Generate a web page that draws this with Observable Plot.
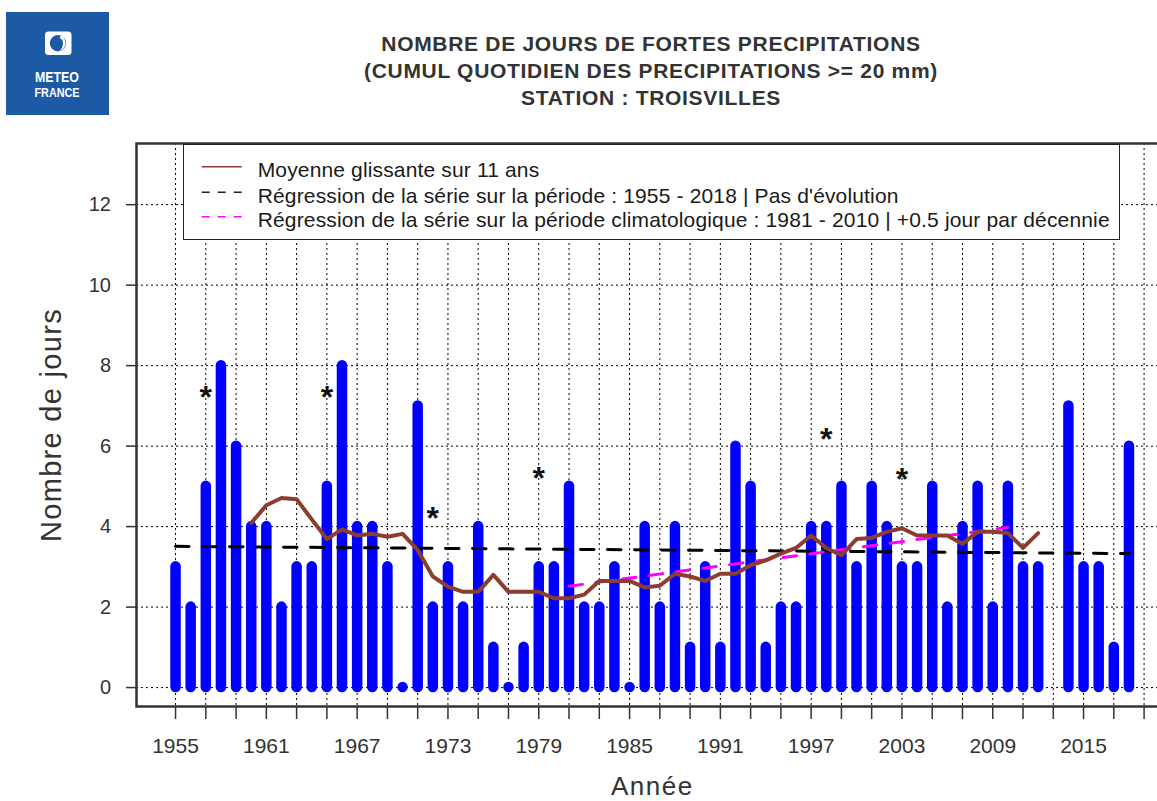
<!DOCTYPE html>
<html>
<head>
<meta charset="utf-8">
<script src="https://cdn.jsdelivr.net/npm/d3@7"></script>
<script src="https://cdn.jsdelivr.net/npm/@observablehq/plot@0.6"></script>
<style>
  body { margin: 0; background: #fff; overflow: hidden; font-family: "Liberation Sans", Arial, sans-serif; }
  #page { position: relative; width: 1157px; height: 801px; overflow: hidden; }
  #header { position: relative; width: 1157px; height: 130px; }
  .t { position: absolute; left: 0; width: 1302px; text-align: center; font-weight: bold; font-size: 21px;
       line-height: 27px; color: #333; letter-spacing: 0.7px; white-space: nowrap; }
  #legend { position: absolute; left: 183px; top: 144px; }
  #chart svg { display: block; }
</style>
</head>
<body>
<div id="page">
  <div id="header">
    <svg width="120" height="125" style="position:absolute;left:0;top:0">
      <rect x="6" y="12" width="103" height="103" fill="#1d5aa6"/>
      <rect x="45" y="31.5" width="26.5" height="23.5" rx="3.5" fill="#fff"/>
      <circle cx="58" cy="43.2" r="8.2" fill="#1d5aa6"/>
      <path d="M58,35.5 A7.7,7.7 0 0 1 58,50.9 A5,7.7 0 0 0 58,35.5 Z" fill="#fff"/>
      <circle cx="62" cy="37.5" r="2" fill="#fff"/>
      <text x="57" y="81.5" text-anchor="middle" font-family="Liberation Sans" font-weight="bold" font-size="14" fill="#fff" textLength="44" lengthAdjust="spacingAndGlyphs">METEO</text>
      <text x="57" y="96.7" text-anchor="middle" font-family="Liberation Sans" font-weight="bold" font-size="13.5" fill="#fff" textLength="45" lengthAdjust="spacingAndGlyphs">FRANCE</text>
    </svg>
    <div class="t" style="top:30px">NOMBRE DE JOURS DE FORTES PRECIPITATIONS</div>
    <div class="t" style="top:57px">(CUMUL QUOTIDIEN DES PRECIPITATIONS &gt;= 20 mm)</div>
    <div class="t" style="top:84px">STATION : TROISVILLES</div>
  </div>
  <div id="chart"></div>
  <svg id="legend" width="940" height="98">
    <rect x="0.5" y="0.5" width="936" height="95" fill="#fff" stroke="#222" stroke-width="1"/>
    <line x1="18.7" x2="58.7" y1="22.7" y2="22.7" stroke="#8b3e2f" stroke-width="1.6"/>
    <line x1="18.7" x2="58.7" y1="48.3" y2="48.3" stroke="#222" stroke-width="1.6" stroke-dasharray="8,8"/>
    <line x1="18.7" x2="58.7" y1="72.7" y2="72.7" stroke="#ff00ff" stroke-width="1.6" stroke-dasharray="8,8"/>
    <g font-family="Liberation Sans" font-size="21" fill="#1a1a1a" style="letter-spacing:0.15px">
      <text x="74.7" y="32.5">Moyenne glissante sur 11 ans</text>
      <text x="74.7" y="58.5">Régression de la série sur la période : 1955 - 2018 | Pas d'évolution</text>
      <text x="74.7" y="82.5">Régression de la série sur la période climatologique : 1981 - 2010 | +0.5 jour par décennie</text>
    </g>
  </svg>
</div>
<script>
// ---- Data ----
const years = [1955,1956,1957,1958,1959,1960,1961,1962,1963,1964,1965,1966,1967,1968,1969,1970,1971,1972,1973,1974,
  1975,1976,1977,1978,1979,1980,1981,1982,1983,1984,1985,1986,1987,1988,1989,1990,1991,1992,1993,1994,
  1995,1996,1997,1998,1999,2000,2001,2002,2003,2004,2005,2006,2007,2008,2009,2010,2011,2012,2014,2015,2016,2017,2018];
const days = [3,2,5,8,6,4,4,2,3,3,5,8,4,4,3,0,7,2,3,2,
  4,1,0,1,3,3,5,2,2,3,0,4,2,4,1,3,1,6,5,1,
  2,2,4,4,5,3,5,4,3,3,5,2,4,5,2,5,3,3,7,3,3,1,6];

const maYears = [1960,1961,1962,1963,1964,1965,1966,1967,1968,1969,1970,1971,1972,1973,1974,1975,1976,1977,1978,1979,
  1980,1981,1982,1983,1984,1985,1986,1987,1988,1989,1990,1991,1992,1993,1994,1995,1996,1997,1998,1999,
  2000,2001,2002,2003,2004,2005,2006,2007,2008,2009,2010,2011,2012];
const maValues = [4.09,4.53,4.71,4.68,4.18,3.69,3.93,3.78,3.82,3.75,3.82,3.42,2.76,2.51,2.38,2.38,2.80,2.38,2.38,2.38,
  2.22,2.22,2.31,2.65,2.65,2.65,2.49,2.53,2.83,2.76,2.65,2.83,2.83,3.04,3.16,3.33,3.47,3.78,3.47,3.29,
  3.69,3.72,3.87,3.96,3.78,3.78,3.78,3.57,3.87,3.87,3.84,3.47,3.84];

const regAllYears = [1955, 2018];
const regAllValues = [3.51, 3.33];
const regClimYears = [1981, 2010];
const regClimValues = [2.52, 3.98];

const starYears = [1957, 1965, 1972, 1979, 1998, 2003];
const starValues = [7.42, 7.42, 4.43, 5.42, 6.38, 5.40];

const yTicks = [0, 2, 4, 6, 8, 10, 12];
const xMinorTicks = d3.range(1955, 2020, 2);
const xLabelTicks = [1955, 1961, 1967, 1973, 1979, 1985, 1991, 1997, 2003, 2009, 2015];

const yLabel = "Nombre de jours";
const xLabel = "Année";

// ---- Build tables ----
const bars = years.map((y, i) => ({year: y, value: days[i]}));
const ma = maYears.map((y, i) => ({year: y, value: maValues[i]}));
const regAll = regAllYears.map((y, i) => ({year: y, value: regAllValues[i]}));
const regClim = regClimYears.map((y, i) => ({year: y, value: regClimValues[i]}));
const stars = starYears.map((y, i) => ({year: y, value: starValues[i]}));

const chart = Plot.plot({
  width: 1157,
  height: 671,
  marginLeft: 136,
  marginRight: -10.5,
  marginTop: 13,
  marginBottom: 95,
  style: {fontFamily: "Liberation Sans, Arial, sans-serif", background: "#fff"},
  x: {domain: [1952.42, 2020.58]},
  y: {domain: [-0.47, 13.52]},
  marks: [
    Plot.gridX(xMinorTicks, {stroke: "#000", strokeOpacity: 1, strokeDasharray: "2,3", strokeWidth: 1}),
    Plot.gridY(yTicks, {stroke: "#000", strokeOpacity: 1, strokeDasharray: "2,3", strokeWidth: 1}),
    Plot.ruleX(bars, {x: "year", y1: 0, y2: "value", stroke: "#0000ff", strokeWidth: 10.5, strokeLinecap: "round"}),
    Plot.line(regAll, {x: "year", y: "value", stroke: "#000", strokeWidth: 3, strokeDasharray: "13.5,13.5"}),
    Plot.line(regClim, {x: "year", y: "value", stroke: "#ff00ff", strokeWidth: 3, strokeDasharray: "13.5,13.5"}),
    Plot.line(ma, {x: "year", y: "value", stroke: "#8b3e2f", strokeWidth: 4, strokeLinejoin: "round"}),
    Plot.text(stars, {x: "year", y: "value", text: () => "*", fontSize: 32, fontWeight: "bold", fill: "#111", dy: 9}),
    Plot.axisY(yTicks, {tickSize: 10, tickPadding: 15.5, fontSize: 20, label: null, color: "#333", strokeWidth: 1.5, tickFormat: d => String(d)}),
    Plot.axisX(xMinorTicks, {tickSize: 13, tickFormat: () => "", label: null, color: "#333", strokeWidth: 1.5}),
    Plot.axisX(xLabelTicks, {tickSize: 0, tickPadding: 32, fontSize: 21, label: null, color: "#333", tickFormat: d => String(d)}),
    Plot.text([yLabel], {frameAnchor: "left", text: d => d, rotate: -90, dx: -85, fontSize: 29, fill: "#333", lineAnchor: "middle", textAnchor: "middle"}),
    Plot.text([xLabel], {frameAnchor: "bottom", text: d => d, dy: 80, fontSize: 26, fill: "#333", lineAnchor: "middle", textAnchor: "middle"}),
    Plot.frame({stroke: "#333", strokeWidth: 2.5})
  ]
});
document.getElementById("chart").appendChild(chart);
chart.querySelectorAll("text").forEach(t => {
  if (t.textContent === yLabel) t.style.letterSpacing = "1.3px";
  if (t.textContent === xLabel) t.style.letterSpacing = "1.5px";
});
</script>
</body>
</html>
